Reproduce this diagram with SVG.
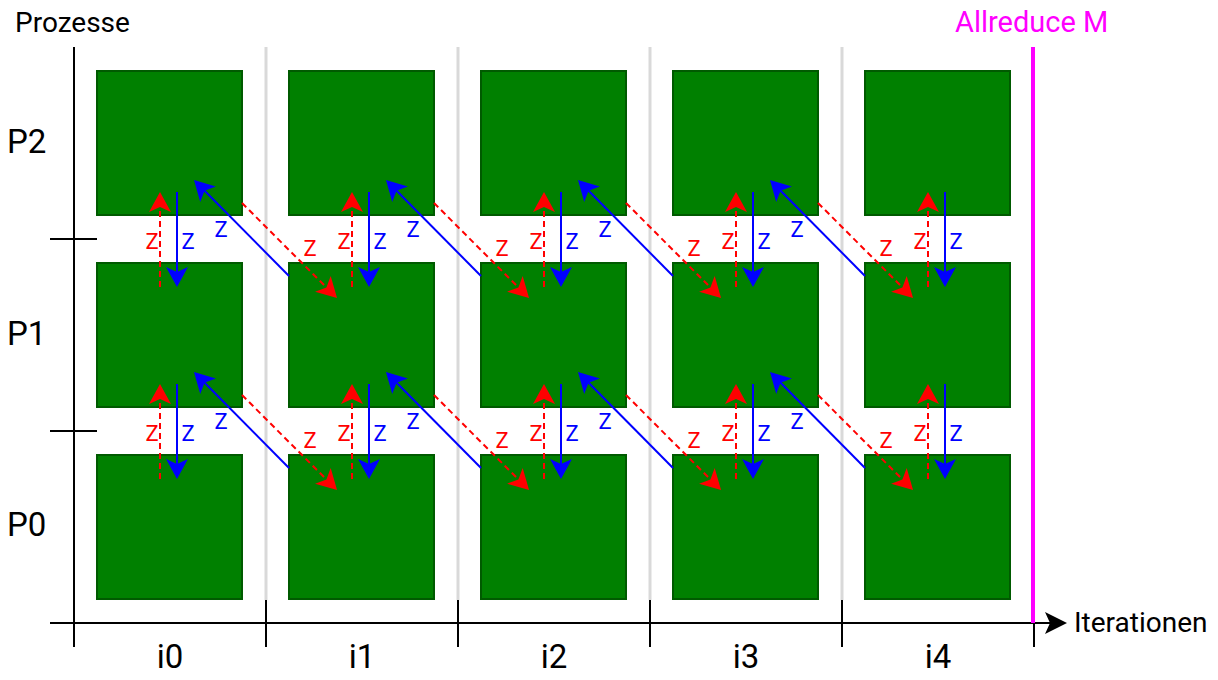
<svg xmlns="http://www.w3.org/2000/svg" width="1218" height="680" viewBox="0 0 1218 680">
<style>
.box{fill:#008000;stroke:#005a00;stroke-width:2}
.sep{stroke:#d9d9d9;stroke-width:3}
.ax{stroke:#000;stroke-width:2;fill:none}
.red{stroke:#ff0000;stroke-width:2;stroke-dasharray:6 4;fill:none}
.blue{stroke:#0000ff;stroke-width:2;fill:none}
.t{font-family:Roboto,"Liberation Sans",sans-serif}
.zr{font-family:Roboto,"Liberation Sans",sans-serif;font-size:22px;fill:#ff0000;text-anchor:middle}
.zb{font-family:Roboto,"Liberation Sans",sans-serif;font-size:22px;fill:#0000ff;text-anchor:middle}
.big{font-family:Roboto,"Liberation Sans",sans-serif;font-size:33px;fill:#000}
</style>
<defs>
<marker id="ar" markerUnits="userSpaceOnUse" markerWidth="40" markerHeight="40" viewBox="-20 -20 40 40" refX="0" refY="0" orient="auto">
<path d="M-14,-11 L6,0 L-14,11 L-9,0 Z" fill="#ff0000"/>
</marker>
<marker id="ab" markerUnits="userSpaceOnUse" markerWidth="40" markerHeight="40" viewBox="-20 -20 40 40" refX="0" refY="0" orient="auto">
<path d="M-14,-11 L6,0 L-14,11 L-9,0 Z" fill="#0000ff"/>
</marker>
</defs>
<rect width="1218" height="680" fill="#fff"/>
<g id="grid">
<line class="sep" x1="266" y1="47" x2="266" y2="600"/>
<line class="sep" x1="458" y1="47" x2="458" y2="600"/>
<line class="sep" x1="650" y1="47" x2="650" y2="600"/>
<line class="sep" x1="842" y1="47" x2="842" y2="600"/>
</g>
<g id="axes">
<line class="ax" x1="74" y1="47" x2="74" y2="647"/>
<line class="ax" x1="50" y1="623" x2="1050" y2="623"/>
<path d="M1067,623 L1045,612 L1050,623 L1045,634 Z" fill="#000"/>
<line class="ax" x1="50" y1="239" x2="97" y2="239"/>
<line class="ax" x1="50" y1="431" x2="97" y2="431"/>
<line class="ax" x1="266" y1="600" x2="266" y2="647"/>
<line class="ax" x1="458" y1="600" x2="458" y2="647"/>
<line class="ax" x1="650" y1="600" x2="650" y2="647"/>
<line class="ax" x1="842" y1="600" x2="842" y2="647"/>
<line class="ax" x1="1034" y1="623" x2="1034" y2="647"/>
<line x1="1033" y1="47" x2="1033" y2="623" stroke="#ff00ff" stroke-width="4"/>
</g>
<g id="labels">
<text class="t" x="15" y="32" font-size="28" fill="#000">Prozesse</text>
<text class="t" x="955" y="32" font-size="29" fill="#ff00ff">Allreduce M</text>
<text class="t" x="1074" y="632" font-size="28" fill="#000">Iterationen</text>
<text class="big" x="7" y="153">P2</text>
<text class="big" x="7" y="345">P1</text>
<text class="big" x="7" y="536">P0</text>
<text class="big" x="170" y="668" text-anchor="middle">i0</text>
<text class="big" x="362" y="668" text-anchor="middle">i1</text>
<text class="big" x="554" y="668" text-anchor="middle">i2</text>
<text class="big" x="746" y="668" text-anchor="middle">i3</text>
<text class="big" x="938" y="668" text-anchor="middle">i4</text>
</g>
<g id="n-p2-i0"><rect class="box" x="97" y="71" width="145" height="144"/></g>
<g id="n-p2-i1"><rect class="box" x="289" y="71" width="145" height="144"/></g>
<g id="n-p2-i2"><rect class="box" x="481" y="71" width="145" height="144"/></g>
<g id="n-p2-i3"><rect class="box" x="673" y="71" width="145" height="144"/></g>
<g id="n-p2-i4"><rect class="box" x="865" y="71" width="145" height="144"/></g>
<g id="n-p1-i0"><rect class="box" x="97" y="263" width="145" height="144"/></g>
<g id="n-p1-i1"><rect class="box" x="289" y="263" width="145" height="144"/></g>
<g id="n-p1-i2"><rect class="box" x="481" y="263" width="145" height="144"/></g>
<g id="n-p1-i3"><rect class="box" x="673" y="263" width="145" height="144"/></g>
<g id="n-p1-i4"><rect class="box" x="865" y="263" width="145" height="144"/></g>
<g id="n-p0-i0"><rect class="box" x="97" y="455" width="145" height="144"/></g>
<g id="n-p0-i1"><rect class="box" x="289" y="455" width="145" height="144"/></g>
<g id="n-p0-i2"><rect class="box" x="481" y="455" width="145" height="144"/></g>
<g id="n-p0-i3"><rect class="box" x="673" y="455" width="145" height="144"/></g>
<g id="n-p0-i4"><rect class="box" x="865" y="455" width="145" height="144"/></g>
<g id="connectors">
<!-- vertical, gap P2/P1 -->
<line class="red" x1="160" y1="287" x2="160" y2="198" marker-end="url(#ar)"/>
<line class="blue" x1="177" y1="192" x2="177" y2="281" marker-end="url(#ab)"/>
<line class="red" x1="352" y1="287" x2="352" y2="198" marker-end="url(#ar)"/>
<line class="blue" x1="369" y1="192" x2="369" y2="281" marker-end="url(#ab)"/>
<line class="red" x1="544" y1="287" x2="544" y2="198" marker-end="url(#ar)"/>
<line class="blue" x1="561" y1="192" x2="561" y2="281" marker-end="url(#ab)"/>
<line class="red" x1="736" y1="287" x2="736" y2="198" marker-end="url(#ar)"/>
<line class="blue" x1="753" y1="192" x2="753" y2="281" marker-end="url(#ab)"/>
<line class="red" x1="928" y1="287" x2="928" y2="198" marker-end="url(#ar)"/>
<line class="blue" x1="945" y1="192" x2="945" y2="281" marker-end="url(#ab)"/>
<!-- vertical, gap P1/P0 -->
<line class="red" x1="160" y1="479" x2="160" y2="390" marker-end="url(#ar)"/>
<line class="blue" x1="177" y1="384" x2="177" y2="473" marker-end="url(#ab)"/>
<line class="red" x1="352" y1="479" x2="352" y2="390" marker-end="url(#ar)"/>
<line class="blue" x1="369" y1="384" x2="369" y2="473" marker-end="url(#ab)"/>
<line class="red" x1="544" y1="479" x2="544" y2="390" marker-end="url(#ar)"/>
<line class="blue" x1="561" y1="384" x2="561" y2="473" marker-end="url(#ab)"/>
<line class="red" x1="736" y1="479" x2="736" y2="390" marker-end="url(#ar)"/>
<line class="blue" x1="753" y1="384" x2="753" y2="473" marker-end="url(#ab)"/>
<line class="red" x1="928" y1="479" x2="928" y2="390" marker-end="url(#ar)"/>
<line class="blue" x1="945" y1="384" x2="945" y2="473" marker-end="url(#ab)"/>
<!-- diagonals, gap P2/P1 -->
<line class="blue" x1="289" y1="276" x2="198.2" y2="184.3" marker-end="url(#ab)"/>
<line class="red" x1="242" y1="203" x2="332.8" y2="293.8" marker-end="url(#ar)"/>
<line class="blue" x1="481" y1="276" x2="390.2" y2="184.3" marker-end="url(#ab)"/>
<line class="red" x1="434" y1="203" x2="524.8" y2="293.8" marker-end="url(#ar)"/>
<line class="blue" x1="673" y1="276" x2="582.2" y2="184.3" marker-end="url(#ab)"/>
<line class="red" x1="626" y1="203" x2="716.8" y2="293.8" marker-end="url(#ar)"/>
<line class="blue" x1="865" y1="276" x2="774.2" y2="184.3" marker-end="url(#ab)"/>
<line class="red" x1="818" y1="203" x2="908.8" y2="293.8" marker-end="url(#ar)"/>
<!-- diagonals, gap P1/P0 -->
<line class="blue" x1="289" y1="468" x2="198.2" y2="376.3" marker-end="url(#ab)"/>
<line class="red" x1="242" y1="395" x2="332.8" y2="485.8" marker-end="url(#ar)"/>
<line class="blue" x1="481" y1="468" x2="390.2" y2="376.3" marker-end="url(#ab)"/>
<line class="red" x1="434" y1="395" x2="524.8" y2="485.8" marker-end="url(#ar)"/>
<line class="blue" x1="673" y1="468" x2="582.2" y2="376.3" marker-end="url(#ab)"/>
<line class="red" x1="626" y1="395" x2="716.8" y2="485.8" marker-end="url(#ar)"/>
<line class="blue" x1="865" y1="468" x2="774.2" y2="376.3" marker-end="url(#ab)"/>
<line class="red" x1="818" y1="395" x2="908.8" y2="485.8" marker-end="url(#ar)"/>
<!-- labels -->
<text class="zr" x="152" y="249">Z</text><text class="zb" x="188" y="249">Z</text>
<text class="zr" x="344" y="249">Z</text><text class="zb" x="380" y="249">Z</text>
<text class="zr" x="536" y="249">Z</text><text class="zb" x="572" y="249">Z</text>
<text class="zr" x="728" y="249">Z</text><text class="zb" x="764" y="249">Z</text>
<text class="zr" x="920" y="249">Z</text><text class="zb" x="956" y="249">Z</text>
<text class="zr" x="152" y="441">Z</text><text class="zb" x="188" y="441">Z</text>
<text class="zr" x="344" y="441">Z</text><text class="zb" x="380" y="441">Z</text>
<text class="zr" x="536" y="441">Z</text><text class="zb" x="572" y="441">Z</text>
<text class="zr" x="728" y="441">Z</text><text class="zb" x="764" y="441">Z</text>
<text class="zr" x="920" y="441">Z</text><text class="zb" x="956" y="441">Z</text>
<text class="zb" x="221" y="237">Z</text><text class="zr" x="310" y="256">Z</text>
<text class="zb" x="413" y="237">Z</text><text class="zr" x="502" y="256">Z</text>
<text class="zb" x="605" y="237">Z</text><text class="zr" x="694" y="256">Z</text>
<text class="zb" x="797" y="237">Z</text><text class="zr" x="886" y="256">Z</text>
<text class="zb" x="221" y="429">Z</text><text class="zr" x="310" y="448">Z</text>
<text class="zb" x="413" y="429">Z</text><text class="zr" x="502" y="448">Z</text>
<text class="zb" x="605" y="429">Z</text><text class="zr" x="694" y="448">Z</text>
<text class="zb" x="797" y="429">Z</text><text class="zr" x="886" y="448">Z</text>
</g>
</svg>
